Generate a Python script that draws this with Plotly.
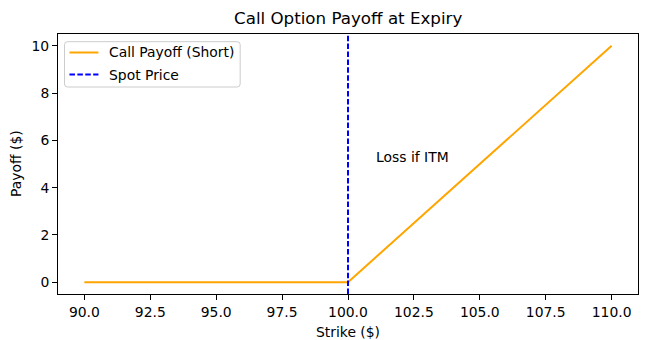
import plotly.graph_objects as go

strike = [90, 100, 110]
payoff = [0, 0, 10]
spot_price = 100
x_ticks = [90.0, 92.5, 95.0, 97.5, 100.0, 102.5, 105.0, 107.5, 110.0]
x_tick_labels = ["90.0", "92.5", "95.0", "97.5", "100.0", "102.5", "105.0", "107.5", "110.0"]
y_ticks = [0, 2, 4, 6, 8, 10]
note_x, note_y, note_text = 101, 5, "Loss if ITM"
series_names = ["Call Payoff (Short)", "Spot Price"]

FONT = "DejaVu Sans"
ORANGE = "#FFA500"
BLUE = "#0000FF"
DASH = "5.5px,2.4px"
W, H = 671, 340
ML, MR, MT, MB = 57.5, 32.5, 34, 46
PW, PH = W - ML - MR, H - MT - MB


def px(xp):
    return (xp - ML) / PW


def py(yp):
    return (H - MB - yp) / PH


fig = go.Figure()
fig.add_trace(go.Scatter(x=strike, y=payoff, mode="lines", name=series_names[0],
                         line=dict(color=ORANGE, width=2), showlegend=False))
fig.add_trace(go.Scatter(x=[spot_price, spot_price], y=[-0.5, 10.5], mode="lines", name=series_names[1],
                         line=dict(color=BLUE, width=2, dash=DASH), showlegend=False))

axis_common = dict(showline=True, linecolor="black", linewidth=1, mirror=True,
                   ticks="outside", ticklen=5, tickcolor="black", tickwidth=1,
                   showgrid=False, zeroline=False,
                   tickfont=dict(family=FONT, size=13.9, color="black"))
fig.update_xaxes(range=[89, 111], tickvals=x_ticks, ticktext=x_tick_labels, **axis_common)
fig.update_yaxes(range=[-0.5, 10.5], tickvals=y_ticks, **axis_common)

fig.add_annotation(x=note_x, y=note_y, text=note_text, showarrow=False, xanchor="left",
                   yanchor="bottom", yshift=-3, font=dict(family=FONT, size=13.9, color="black"))
fig.add_annotation(x=0.5, y=1, xref="paper", yref="paper", text="Call Option Payoff at Expiry",
                   showarrow=False, xanchor="center", yanchor="bottom", yshift=4,
                   font=dict(family=FONT, size=16.7, color="black"))
fig.add_annotation(x=0.5, y=0, xref="paper", yref="paper", text="Strike ($)", showarrow=False,
                   xanchor="center", yanchor="top", yshift=-28, font=dict(family=FONT, size=13.9, color="black"))
fig.add_annotation(x=0, y=0.5, xref="paper", yref="paper", text="Payoff ($)", showarrow=False,
                   xanchor="right", yanchor="middle", xshift=-32, textangle=-90,
                   font=dict(family=FONT, size=13.9, color="black"))

# manual legend (matplotlib style)
bx0, bx1, by0, by1, r = 64, 240, 41.7, 87, 3
path = (f"M {px(bx0 + r)},{py(by0)} L {px(bx1 - r)},{py(by0)} "
        f"Q {px(bx1)},{py(by0)} {px(bx1)},{py(by0 + r)} L {px(bx1)},{py(by1 - r)} "
        f"Q {px(bx1)},{py(by1)} {px(bx1 - r)},{py(by1)} L {px(bx0 + r)},{py(by1)} "
        f"Q {px(bx0)},{py(by1)} {px(bx0)},{py(by1 - r)} L {px(bx0)},{py(by0 + r)} "
        f"Q {px(bx0)},{py(by0)} {px(bx0 + r)},{py(by0)} Z")
fig.add_shape(type="path", path=path, xref="paper", yref="paper",
              line=dict(color="#CCCCCC", width=1), fillcolor="rgba(255,255,255,0.8)", layer="above")
rows = [52.5, 74.5]
styles = [dict(color=ORANGE, width=2), dict(color=BLUE, width=2, dash=DASH)]
for name, yrow, st in zip(series_names, rows, styles):
    fig.add_shape(type="line", xref="paper", yref="paper", x0=px(69), x1=px(98),
                  y0=py(yrow), y1=py(yrow), line=st, layer="above")
    fig.add_annotation(x=px(107), y=py(yrow), xref="paper", yref="paper", text=name,
                       showarrow=False, xanchor="left", yanchor="middle",
                       font=dict(family=FONT, size=13.9, color="black"))

fig.update_layout(
    width=W, height=H,
    margin=dict(l=ML, r=MR, t=MT, b=MB, autoexpand=False),
    paper_bgcolor="white", plot_bgcolor="white",
    showlegend=False,
    font=dict(family=FONT),
)
fig.write_html("out.html")
